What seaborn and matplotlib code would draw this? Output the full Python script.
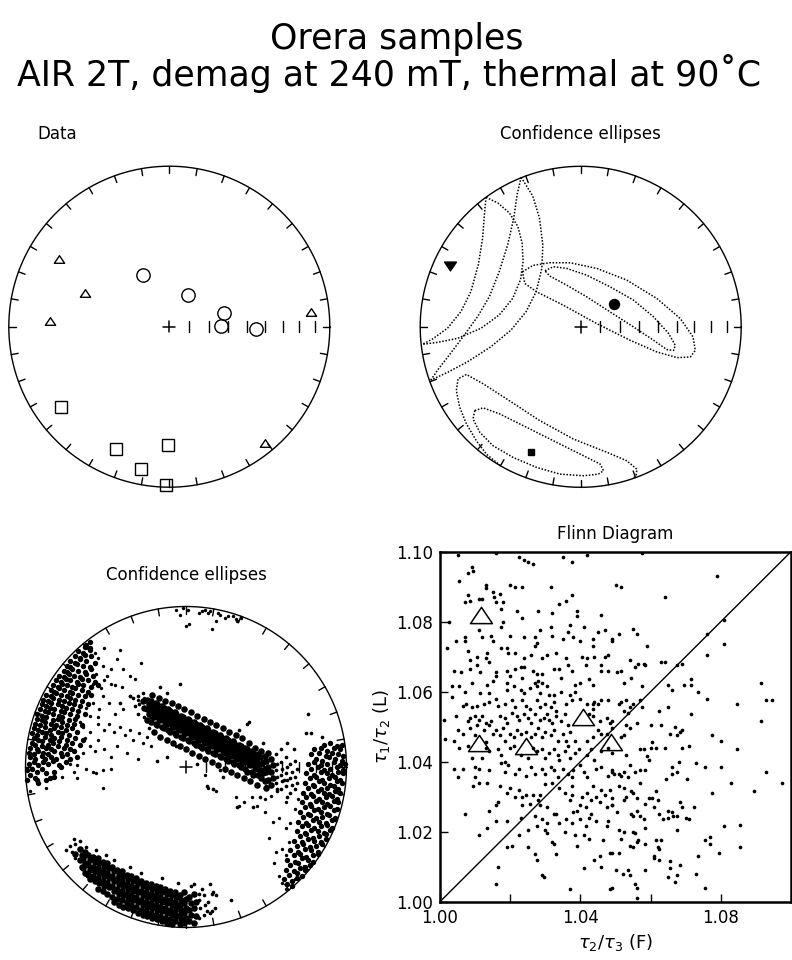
import numpy as np
import matplotlib
matplotlib.use("Agg")
import matplotlib.pyplot as plt
from matplotlib.path import Path
import seaborn as sns

# ---------------------------------------------------------------------------
# Specimen principal susceptibility directions (declination, inclination, deg)
# ---------------------------------------------------------------------------
k1_dec = [332.5, 30.3, 75.8, 89.7, 91.3]
k1_inc = [60.4, 71.5, 61.3, 63.6, 45.2]
k2_dec = [301.7, 291.9, 272.6, 84.1, 140.5]
k2_inc = [20.5, 42.8, 26.5, 12.0, 7.0]
k3_dec = [233.3, 203.5, 180.8, 191.2, 181.1]
k3_inc = [17.2, 18.2, 26.9, 10.3, 1.4]

# Mean principal directions: tau1, tau2, tau3
mean_dec = [55.7, 294.8, 201.6]
mean_inc = [69.5, 11.0, 16.9]

# Confidence ellipse traces, equal-area net coordinates (% of primitive radius)
ell_tau1_inner = [(-22.3, 34.9), (-17.1, 37.4), (-8.8, 36.4), (3.7, 32.2), (18.3, 24.9),
                  (32.9, 16.6), (45.4, 6.2), (54.8, -4.2), (58.9, -11.5), (57.9, -14.7),
                  (53.7, -14.2), (45.4, -8.4), (32.9, -0.1), (18.3, 9.3), (3.7, 18.7),
                  (-8.8, 26.0), (-19.2, 31.6), (-22.3, 34.9)]
ell_tau1_outer = [(-36.3, 34.3), (-29.6, 38.3), (-19.2, 39.9), (-6.7, 39.9), (10.0, 36.4),
                  (28.7, 29.1), (47.5, 17.6), (62.1, 5.1), (70.0, -6.3), (71.4, -14.7),
                  (68.3, -18.8), (60.0, -19.2), (47.5, -15.7), (30.8, -8.4), (10.0, 2.0),
                  (-10.9, 13.5), (-27.5, 21.8), (-34.8, 27.0), (-36.3, 34.3)]
ell_tau3_inner = [(-66.0, -52.2), (-60.8, -50.5), (-50.4, -54.3), (-33.8, -62.6), (-15.0, -72.0),
                  (1.7, -80.3), (12.1, -85.5), (14.2, -89.7), (11.0, -91.8), (1.7, -92.8),
                  (-12.9, -91.8), (-27.5, -87.6), (-42.1, -81.4), (-54.6, -74.1), (-62.9, -65.7),
                  (-67.1, -57.4), (-66.0, -52.2)]
ell_tau3_outer = [(-50.0, -86.5), (-58.8, -79.3), (-65.0, -71.0), (-71.2, -60.5), (-75.4, -50.1),
                  (-77.5, -39.7), (-76.4, -32.4), (-71.2, -29.7), (-60.8, -35.5), (-46.2, -44.9),
                  (-25.4, -58.5), (-4.6, -69.9), (16.3, -78.2), (28.8, -83.5), (35.0, -88.7),
                  (34.6, -92.2), (33.0, -94.2)]
ell_tau2_inner_a = [(-59.0, 80.7), (-51.7, 77.2), (-44.4, 70.9), (-39.2, 62.6), (-36.5, 52.2),
                    (-35.9, 40.7), (-37.5, 29.3), (-42.3, 17.8), (-50.7, 7.4), (-62.1, -0.9),
                    (-76.7, -7.2), (-89.2, -9.7), (-98.6, -10.9)]
ell_tau2_inner_b = [(-59.0, 80.7), (-60.0, 69.9), (-61.1, 55.3), (-63.8, 38.7), (-68.4, 22.0),
                    (-74.6, 9.5), (-83.0, -0.9), (-92.3, -7.6), (-98.6, -10.9)]
ell_tau2_outer_a = [(-37.1, 93.2), (-29.8, 81.3), (-25.7, 67.8), (-23.6, 51.1), (-24.2, 36.6),
                    (-27.7, 22.0), (-34.0, 9.5), (-43.4, -2.0), (-55.9, -12.4), (-70.5, -21.8),
                    (-83.0, -28.4), (-93.4, -33.2)]
ell_tau2_outer_b = [(-37.1, 93.2), (-39.6, 82.4), (-41.7, 67.8), (-45.5, 51.1), (-50.7, 34.5),
                    (-56.9, 18.8), (-64.2, 6.4), (-72.5, -5.1), (-81.9, -17.6), (-89.2, -27.0),
                    (-93.4, -33.2)]

# Bootstrap eigenvectors, equal-area net coordinates (% of primitive radius)
# dense parts of each cloud
boot_tau2_west = [
    (-98, 2), (-95, 3), (-92, 1), (-89, 3), (-86, 2), (-83, 4), (-79, 1), (-75, 3),
    (-97, 6), (-94, 5), (-90, 7), (-88, 5), (-84, 6), (-81, 5), (-77, 7), (-72, 5), (-68, 6),
    (-98, 9), (-95, 8), (-92, 10), (-89, 9), (-86, 8), (-82, 10), (-78, 9), (-74, 8), (-70, 10),
    (-97, 12), (-93, 11), (-90, 13), (-87, 12), (-84, 11), (-80, 13), (-76, 12), (-72, 11),
    (-96, 15), (-94, 14), (-90, 16), (-86, 14), (-83, 15), (-79, 16), (-75, 14), (-71, 15), (-66, 14),
    (-95, 18), (-92, 17), (-88, 19), (-85, 17), (-82, 18), (-78, 19), (-74, 17), (-69, 18), (-64, 17),
    (-96, 21), (-93, 20), (-90, 22), (-87, 21), (-84, 20), (-80, 22), (-77, 21), (-73, 20), (-68, 22),
    (-95, 24), (-92, 23), (-88, 25), (-85, 23), (-82, 24), (-78, 25), (-75, 23), (-71, 24),
    (-94, 27), (-91, 26), (-88, 28), (-84, 27), (-81, 26), (-77, 28), (-74, 26), (-70, 27), (-65, 26),
    (-93, 30), (-90, 29), (-87, 31), (-83, 29), (-80, 30), (-77, 31), (-73, 29), (-69, 30),
    (-93, 33), (-90, 32), (-86, 34), (-83, 33), (-79, 32), (-76, 34), (-72, 33), (-68, 32), (-63, 33),
    (-91, 36), (-88, 35), (-85, 37), (-82, 36), (-78, 35), (-75, 37), (-71, 36), (-67, 35),
    (-90, 39), (-87, 38), (-84, 40), (-80, 39), (-77, 38), (-73, 40), (-70, 39), (-66, 38), (-61, 39),
    (-89, 42), (-86, 41), (-83, 43), (-79, 42), (-76, 41), (-72, 43), (-69, 42), (-65, 41),
    (-87, 45), (-84, 44), (-81, 46), (-78, 45), (-74, 44), (-71, 46), (-67, 45), (-63, 44), (-59, 45),
    (-84, 48), (-82, 47), (-79, 49), (-76, 48), (-72, 47), (-69, 49), (-65, 48), (-61, 47),
    (-83, 51), (-80, 50), (-77, 52), (-74, 51), (-71, 50), (-67, 52), (-64, 51), (-59, 50), (-55, 51),
    (-81, 54), (-78, 53), (-75, 55), (-72, 54), (-68, 53), (-65, 55), (-61, 54), (-57, 53),
    (-79, 57), (-76, 56), (-73, 58), (-70, 57), (-66, 56), (-62, 58), (-58, 57),
    (-76, 60), (-74, 59), (-71, 61), (-67, 60), (-63, 59), (-59, 61),
    (-74, 63), (-72, 62), (-68, 64), (-64, 63), (-60, 62),
    (-72, 66), (-69, 65), (-66, 67), (-62, 66), (-57, 65),
    (-69, 69), (-66, 68), (-63, 70), (-59, 69), (-67, 72), (-64, 71), (-60, 73), (-63, 75), (-60, 74),
    (-62, 76), (-60, 78),
    (-99, -2), (-96, -1), (-93, -3), (-90, -1), (-97, -5), (-94, -7), (-99, -8), (-87, -4),
    (-85, -7), (-82, -3), (-92, -10), (-93, -8), (-87, -8), (-82, -6), (-78, 0)]
boot_tau2_east = [
    (86, 14), (90, 15), (94, 13), (97, 14),
    (80, 11), (84, 12), (88, 10), (92, 12), (96, 11),
    (78, 8), (83, 9), (87, 7), (91, 9), (95, 8), (98, 7),
    (81, 5), (85, 4), (89, 6), (93, 5), (97, 4),
    (76, 2), (80, 3), (84, 1), (88, 2), (92, 3), (96, 1), (99, 2),
    (78, -1), (82, 0), (86, -2), (90, -1), (94, 0), (98, -2),
    (75, -4), (80, -5), (84, -3), (88, -4), (91, -5), (95, -3), (98, -4),
    (77, -7), (81, -6), (85, -8), (89, -7), (93, -6), (96, -8),
    (74, -10), (79, -11), (83, -9), (86, -10), (90, -11), (94, -9), (97, -10),
    (76, -13), (80, -12), (84, -14), (88, -13), (92, -12), (95, -14),
    (73, -16), (78, -17), (82, -15), (86, -16), (89, -17), (93, -15), (96, -16),
    (75, -19), (79, -18), (83, -20), (87, -19), (91, -18), (94, -20),
    (72, -22), (77, -23), (81, -21), (85, -22), (88, -23), (92, -21), (95, -22),
    (74, -25), (78, -24), (82, -26), (86, -25), (90, -24), (94, -26),
    (71, -28), (76, -29), (80, -27), (84, -28), (88, -29), (92, -27),
    (73, -31), (77, -30), (81, -32), (85, -31), (89, -30), (93, -32),
    (70, -34), (75, -35), (79, -33), (83, -34), (87, -35), (91, -33),
    (72, -37), (76, -36), (80, -38), (84, -37), (88, -36), (91, -38),
    (69, -40), (74, -41), (78, -39), (82, -40), (86, -41), (90, -39),
    (71, -43), (75, -42), (79, -44), (83, -43), (87, -42),
    (67, -46), (72, -47), (76, -45), (80, -46), (84, -47), (87, -45),
    (69, -49), (73, -48), (77, -50), (81, -49), (85, -48),
    (65, -52), (70, -53), (74, -51), (78, -52), (82, -53),
    (67, -55), (71, -54), (75, -56), (79, -55), (82, -54),
    (63, -58), (68, -59), (72, -57), (76, -58), (79, -59),
    (65, -61), (70, -60), (74, -62), (77, -61),
    (62, -64), (67, -65), (71, -63), (74, -64),
    (64, -67), (69, -66), (72, -68), (61, -70), (66, -71), (69, -69), (63, -73), (66, -74)]
boot_tau1 = [
    (-27, 41), (-26, 37), (-24, 42), (-23, 39), (-24, 36), (-23, 33), (-24, 29),
    (-21, 45), (-22, 41), (-21, 38), (-22, 35), (-21, 32), (-22, 28),
    (-19, 40), (-20, 37), (-19, 34), (-20, 31), (-19, 27), (-20, 22),
    (-17, 43), (-18, 39), (-17, 36), (-18, 33), (-17, 30), (-18, 26),
    (-15, 38), (-16, 35), (-15, 32), (-16, 29), (-15, 25), (-16, 19),
    (-13, 41), (-14, 37), (-13, 34), (-14, 31), (-13, 28), (-14, 24),
    (-11, 36), (-12, 33), (-11, 30), (-12, 27), (-11, 23), (-12, 17),
    (-9, 40), (-10, 35), (-9, 32), (-10, 29), (-9, 26), (-10, 22),
    (-7, 34), (-8, 31), (-7, 28), (-8, 25), (-7, 21), (-8, 15),
    (-5, 38), (-6, 33), (-5, 30), (-6, 27), (-5, 24), (-6, 20),
    (-3, 32), (-4, 29), (-3, 26), (-4, 23), (-3, 19), (-4, 13),
    (-1, 36), (-2, 31), (-1, 28), (-2, 25), (-1, 22), (-2, 18),
    (1, 30), (0, 27), (1, 24), (0, 21), (1, 17), (0, 11),
    (3, 34), (2, 29), (3, 26), (2, 23), (3, 20), (2, 16),
    (5, 28), (4, 25), (5, 22), (4, 19), (5, 15), (4, 9),
    (7, 32), (6, 27), (7, 24), (6, 21), (7, 18), (6, 14),
    (9, 26), (8, 23), (9, 20), (8, 17), (9, 13), (8, 7),
    (11, 30), (10, 25), (11, 22), (10, 19), (11, 16), (10, 12),
    (13, 24), (12, 21), (13, 18), (12, 15), (13, 11), (12, 5),
    (15, 28), (14, 23), (15, 20), (14, 17), (15, 14), (14, 10),
    (17, 22), (16, 19), (17, 16), (16, 13), (17, 9), (16, 3),
    (19, 26), (18, 21), (19, 18), (18, 15), (19, 12), (18, 8),
    (21, 20), (20, 17), (21, 14), (20, 11), (21, 7), (20, 1),
    (23, 24), (22, 19), (23, 16), (22, 13), (23, 10), (22, 6),
    (25, 18), (24, 15), (25, 12), (24, 9), (25, 5), (24, -1),
    (27, 22), (26, 17), (27, 14), (26, 11), (27, 8), (26, 4),
    (29, 16), (28, 13), (29, 10), (28, 7), (29, 3), (28, -3),
    (31, 20), (30, 15), (31, 12), (30, 9), (31, 6), (30, 2),
    (33, 14), (32, 11), (33, 8), (32, 5), (33, 1), (32, -5),
    (35, 18), (34, 13), (35, 10), (34, 7), (35, 4), (34, 0),
    (37, 12), (36, 9), (37, 6), (36, 3), (37, -1), (36, -7),
    (39, 15), (38, 11), (39, 8), (38, 5), (39, 2), (38, -3),
    (41, 10), (40, 7), (41, 4), (40, 1), (41, -3), (40, -9),
    (43, 12), (42, 9), (43, 6), (42, 3), (43, 0), (42, -5),
    (45, 8), (44, 5), (45, 2), (44, -1), (45, -5), (44, -11),
    (47, 10), (46, 6), (47, 2), (46, -2), (47, -7),
    (49, 7), (48, 3), (49, -1), (48, -4), (49, -9),
    (51, 9), (50, 4), (51, 0), (50, -3), (51, -8), (50, -13),
    (53, 5), (54, 1), (53, -3), (54, -7), (53, -11)]
boot_tau3 = [
    (-69, -54), (-66, -51), (-65, -55), (-66, -58), (-65, -62),
    (-63, -53), (-64, -57), (-63, -60), (-64, -63), (-63, -66),
    (-61, -55), (-60, -58), (-61, -61), (-60, -64), (-61, -67), (-60, -70),
    (-58, -56), (-57, -59), (-58, -62), (-57, -65), (-58, -68), (-57, -71),
    (-55, -57), (-54, -60), (-55, -63), (-54, -66), (-55, -69), (-54, -72), (-55, -76),
    (-52, -59), (-51, -62), (-52, -65), (-51, -68), (-52, -71), (-51, -74), (-52, -77),
    (-49, -60), (-48, -63), (-49, -66), (-48, -69), (-49, -72), (-48, -75), (-49, -79),
    (-46, -62), (-45, -65), (-46, -68), (-45, -71), (-46, -74), (-45, -77), (-46, -81), (-45, -84),
    (-43, -64), (-42, -67), (-43, -70), (-42, -73), (-43, -76), (-42, -79), (-43, -82), (-42, -86),
    (-40, -65), (-39, -68), (-40, -71), (-39, -74), (-40, -77), (-39, -80), (-40, -83), (-39, -87),
    (-37, -67), (-36, -70), (-37, -73), (-36, -76), (-37, -79), (-36, -82), (-37, -85), (-36, -88),
    (-34, -68), (-33, -71), (-34, -74), (-33, -77), (-34, -80), (-33, -83), (-34, -86), (-33, -89),
    (-31, -69), (-30, -72), (-31, -75), (-30, -78), (-31, -81), (-30, -84), (-31, -87), (-30, -91),
    (-28, -71), (-27, -74), (-28, -77), (-27, -80), (-28, -83), (-27, -86), (-28, -89), (-27, -92),
    (-25, -72), (-24, -75), (-25, -78), (-24, -81), (-25, -84), (-24, -87), (-25, -90), (-24, -93),
    (-22, -73), (-21, -76), (-22, -79), (-21, -82), (-22, -85), (-21, -88), (-22, -91), (-21, -94),
    (-19, -74), (-18, -77), (-19, -80), (-18, -83), (-19, -86), (-18, -89), (-19, -92), (-18, -95),
    (-16, -75), (-15, -78), (-16, -81), (-15, -84), (-16, -87), (-15, -90), (-16, -93), (-15, -96),
    (-13, -76), (-12, -79), (-13, -82), (-12, -85), (-13, -88), (-12, -91), (-13, -94), (-12, -97),
    (-10, -77), (-9, -80), (-10, -83), (-9, -86), (-10, -89), (-9, -92), (-10, -95), (-9, -98),
    (-7, -78), (-6, -81), (-7, -84), (-6, -87), (-7, -90), (-6, -93), (-7, -96),
    (-4, -80), (-3, -83), (-4, -86), (-3, -89), (-4, -92), (-3, -95), (-4, -98),
    (-1, -78), (0, -82), (-1, -85), (0, -88), (-1, -91), (0, -94), (-1, -97),
    (2, -81), (3, -85), (2, -89), (3, -92), (2, -96),
    (5, -79), (6, -84), (5, -88), (6, -93), (5, -97)]
# scattered parts of each cloud
boot_tau2_sparse = [
    (-97, -15), (-87, -13), (-77, -6), (-70, -3), (-68, -7), (-62, -1), (-58, -3), (-56, -4),
    (-52, -2), (-47, -1), (-52, -13),
    (-51, 74), (-41, 73), (-28, 65), (-43, 67), (-47, 61), (-39, 61), (-35, 57), (-32, 55),
    (-51, 54), (-44, 51), (-40, 50), (-35, 44), (-30, 42), (-26, 43), (-57, 71), (-55, 68),
    (-57, 64), (-52, 63), (-56, 58), (-49, 57), (-47, 52), (-53, 49), (-58, 52), (-68, 32),
    (-64, 25), (-60, 32), (-55, 27), (-51, 23), (-48, 27), (-45, 22), (-41, 25), (-38, 20),
    (-35, 23), (-33, 17), (-29, 21), (-27, 15), (-24, 19), (-22, 13), (-55, 17), (-60, 13),
    (-64, 9), (-51, 11), (-47, 6), (-43, 13), (-72, 2), (-68, 1), (-37, 9), (-30, 5),
    (-62, 45), (-58, 40), (-54, 36), (-60, 22), (-57, 10), (-44, 33), (-39, 36), (-48, 40),
    (-52, 44), (-63, 18), (-66, 28), (-62, 37), (-55, 31),
    (1, 98), (2, 89), (12, 98), (14, 96), (15, 97), (20, 96), (19, 91), (16, 86), (26, 94),
    (31, 92), (32, 91), (29, 94), (21, 95), (-6, 98), (-2, 99), (0, 88), (10, 97), (24, 93),
    (34, 93), (8, 96), (-4, 95),
    (33, -24), (14, -13), (19, -15), (31, -19), (41, -19), (44, -24), (49, -28), (54, -34),
    (52, -44), (56, -53), (55, -60), (62, -55), (58, -68), (60, -72), (62, -76), (68, -70),
    (49, -20), (36, -22), (58, -32), (62, -38), (64, -47), (60, -51), (65, -35), (68, -26),
    (53, -18), (62, -22), (70, -20), (12, -5)]
boot_tau1_sparse = [
    (-33, 43), (-32, 38), (-30, 44), (-29, 39), (-30, 33), (-27, 46), (-26, 31), (-23, 24),
    (56, 8), (57, 2), (56, -2), (57, -6), (56, -10), (57, -15),
    (59, 3), (60, -1), (59, -5), (60, -9), (59, -14),
    (62, 6), (63, 0), (62, -4), (63, -8), (62, -12),
    (65, 2), (66, -3), (65, -7), (66, -11), (65, -16),
    (68, 4), (69, -1), (68, -6), (69, -10), (68, -14),
    (-41, 40), (-35, 44), (-16, 50), (-12, 46), (-4, 52), (38, 27), (21, -2), (13, -12),
    (17, -14), (32, -25), (23, -6), (7, 2), (-12, 6), (-18, 4), (-6, 13), (42, -25),
    (46, -19), (50, -12), (57, -14), (61, -8), (63, -19), (63, 15), (59, 11), (67, 11),
    (76, 33), (78, 21), (85, 19), (75, 21), (39, 28), (48, 15), (33, 23)]
boot_tau3_sparse = [
    (-72, -49), (-71, -53), (-69, -48), (-69, -57),
    (8, -83), (9, -88), (8, -94), (11, -80), (12, -86), (11, -92), (14, -84), (15, -91),
    (17, -78), (18, -88),
    (-70, -45), (-62, -50), (-56, -52), (-45, -58), (-35, -62), (-28, -66), (-15, -69),
    (-5, -72), (5, -73), (10, -76), (15, -73), (19, -80), (-75, -52), (-66, -46), (-50, -55),
    (3, -74), (16, -79), (8, -79), (13, -90), (16, -90), (28, -83)]

# Flinn diagram: bootstrap (F-1, L-1) in per mil
boot_flinn_permil = [
    (5, 99), (16, 99.5), (22.5, 98.5), (24, 97.5), (25, 97), (26.5, 96.5), (35, 98.5), (37.5, 97),
    (42, 99), (9, 95.5), (8, 94), (9.5, 94.5), (5.5, 91.5), (13, 90.5), (13, 89.5), (20, 90.5),
    (21.5, 90), (23.5, 90), (31.5, 90), (37.5, 87.5), (36, 86), (34, 85), (8, 87.5), (7, 85.5),
    (8.5, 86), (11, 86.5), (12, 86.5), (15, 88.5), (15.5, 87), (17, 88), (16, 85.5), (18, 85.5),
    (17.5, 83.5), (22, 83), (28, 83), (32, 82.5), (39, 83), (39, 81.5), (46, 82), (2.5, 80),
    (18, 80), (17.5, 78.5), (23.5, 81), (28.5, 77.5), (31.5, 78.5), (37, 79), (36.5, 77), (41, 78.5),
    (45, 77), (47, 77.5), (38, 75.5), (11, 77.5), (12, 75.5), (7, 75.5), (7, 74.5), (4.5, 74.5),
    (2, 72.5), (8, 71.5), (14.5, 76), (15, 74.5), (20, 76), (24, 75.5), (27, 75.5), (27.5, 74),
    (27, 73), (32, 76), (35, 75), (40, 74.5), (43.5, 75), (43.5, 73), (49, 74.5), (17.5, 72.5),
    (19, 72.5), (19.5, 71), (21.5, 71), (10.5, 70), (13.5, 71), (13, 69.5), (14, 68.5), (8.5, 69),
    (24, 69.5), (26, 70.5), (29, 69.5), (30.5, 70.5), (33, 71), (36, 69.5), (40.5, 70), (42, 69.5),
    (41.5, 67.5), (44, 70), (47, 70), (48, 70.5), (46, 67.5), (46, 66), (4, 66), (6, 65.5),
    (8.5, 66.5), (10.5, 67.5), (11.5, 65.5), (16, 65.5), (16, 64.5), (19, 66), (20, 64.5), (21.5, 66.5),
    (23, 67), (24, 67), (23.5, 64), (26.5, 66), (27.5, 65), (29, 65), (32.5, 66.5), (34, 66.5),
    (34.5, 64), (36.5, 67.5), (37.5, 66), (38.5, 62), (40, 62.5), (42.5, 63.5), (43.5, 62), (48, 66),
    (3.5, 61.5), (5.5, 61.5), (9, 62.5), (7, 60), (11.5, 59.5), (13.5, 62), (14, 59.5), (15, 63),
    (19, 62.5), (19, 60.5), (21, 61.5), (23, 60.5), (24, 59.5), (25.5, 61), (27, 62.5), (28, 63),
    (29, 62.5), (27.5, 61.5), (30.5, 61.5), (28.5, 59.5), (31, 59), (32.5, 59), (34.5, 60), (37, 59),
    (38.5, 60), (3.5, 58.5), (6.5, 56), (7.5, 56.5), (9, 55.5), (10.5, 56), (12.5, 56.5), (14, 57),
    (16, 58), (16.5, 56), (18.5, 56.5), (20.5, 57.5), (21.5, 55.5), (23.5, 57.5), (24.5, 56), (25.5, 55),
    (27.5, 57.5), (28.5, 55.5), (30, 56.5), (31.5, 55.5), (32.5, 57), (33, 54.5), (36, 56.5), (37.5, 57.5),
    (40, 58), (42, 56.5), (43.5, 56.5), (44, 57), (45, 56.5), (46, 57.5), (48, 57.5), (43.5, 55),
    (1, 52), (4.5, 53), (8, 51.5), (8.5, 52.5), (10, 53), (11, 52), (12, 53), (10.5, 50.5),
    (13, 51), (14, 50.5), (14.5, 51.5), (17, 53), (18.5, 52.5), (19, 51), (20.5, 54), (22, 53),
    (22.5, 52), (24, 53.5), (25, 52.5), (26, 51), (27, 53.5), (28.5, 52), (29.5, 52.5), (30.5, 53.5),
    (31, 52), (32, 51), (33, 53), (34.5, 51.5), (35.5, 53.5), (36.5, 50.5), (42.5, 53.5), (43.5, 53),
    (45.5, 51.5), (47.5, 52.5), (48.5, 51), (5, 49), (6.5, 48), (8.5, 49.5), (10, 47.5), (12.5, 49),
    (15, 48), (16, 49), (17, 47.5), (18, 49.5), (18.5, 46), (20, 48), (21, 47), (22, 49),
    (23, 48), (24.5, 48.5), (26, 47), (27, 48), (28, 49.5), (29, 47), (30, 48.5), (31.5, 47.5),
    (32.5, 49), (33.5, 46), (35, 48), (36, 46), (37, 48.5), (38.5, 46), (42, 46), (43.5, 47),
    (45, 49), (46, 48), (47.5, 48), (49, 49.5), (1.5, 46.5), (4, 46), (13, 45.5), (5.5, 44),
    (8, 44.5), (13, 44), (14, 43), (16.5, 43.5), (17.5, 42), (18.5, 40), (20, 44), (21, 44.5),
    (26.5, 44), (27.5, 43), (29, 43.5), (30, 41), (31, 42.5), (32.5, 43.5), (33.5, 42), (34, 40.5),
    (35.5, 43), (36.5, 44.5), (37, 41), (38.5, 42.5), (39.5, 43.5), (42, 42), (43, 43.5), (44, 40.5),
    (46, 43), (48, 44), (49, 42.5), (9, 41), (12, 41), (23, 42), (25, 41), (4, 38),
    (5, 35.5), (6.5, 38), (10, 38.5), (11, 38), (17.5, 39.5), (18.5, 37), (19.5, 39), (21.5, 36.5),
    (22.5, 38), (24.5, 36), (26, 38.5), (27, 36.5), (29, 38), (30, 36.5), (31.5, 38.5), (32.5, 37.5),
    (33.5, 35.5), (35, 38), (36.5, 36.5), (37.5, 35.5), (38, 37.5), (40, 39), (41, 37), (42, 35.5),
    (44.5, 38), (46, 38.5), (48, 36), (49, 37), (10, 35.5), (14, 37.5), (9.5, 33), (11, 34),
    (13.5, 34), (17, 33), (19, 31), (20, 32.5), (21.5, 30), (22.5, 32), (23.5, 30), (24.5, 30.5),
    (26.5, 30.5), (28.5, 30.5), (30, 33.5), (32, 34), (34, 32.5), (35.5, 31), (37.5, 33), (37.5, 30.5),
    (40.5, 30), (42, 31), (43.5, 33), (44.5, 30), (46, 32), (47, 30.5), (48.5, 32), (16, 27.5),
    (16.5, 28.5), (14, 26), (23.5, 27.5), (25.5, 28), (28, 29), (28.5, 27.5), (30.5, 27), (37, 29),
    (38, 25.5), (39, 26), (40, 27.5), (41.5, 27), (43, 29), (45.5, 28.5), (47.5, 27), (49, 27.5),
    (43, 25), (32.5, 25), (7, 25), (16, 23), (19, 23), (23, 24), (27, 24.5), (29, 23.5),
    (27.5, 21.5), (30.5, 22.5), (33, 25), (34, 22.5), (36, 23.5), (37.5, 22.5), (40, 23.5), (41.5, 21.5),
    (42.5, 24), (44.5, 23), (48, 23), (47.5, 21.5), (13.5, 21), (22.5, 19), (25, 20.5), (11, 19),
    (30, 20.5), (30.5, 19.5), (35.5, 20), (38.5, 19), (41, 19), (42.5, 18), (46.5, 17.5), (32, 17),
    (32.5, 16.5), (25, 15.5), (27, 13.5), (27.5, 12), (33, 13.5), (39, 16), (44, 12), (45.5, 13),
    (48.5, 14), (46, 10), (41, 9.5), (16.5, 10), (19, 15.5), (20.5, 16), (29, 7.5), (29.5, 7),
    (16, 5), (37, 3.5), (48.5, 3.5),
    (57.5, 99.5), (50, 90.5), (51.5, 90), (79, 93), (64, 87), (81, 80.5), (76, 76.5), (81, 73.5),
    (49, 75), (51, 76.5), (55, 78), (56, 76.5), (59, 73), (54, 69), (55.5, 67), (56.5, 68),
    (58, 68), (58.5, 67.5), (50.5, 65.5), (51.5, 66), (63, 68.5), (64, 68.5), (67.5, 67.5), (69, 68),
    (76, 70.5), (54.5, 64), (52.5, 62.5), (57.5, 61.5), (65, 62), (66, 60.5), (69.5, 62), (71.5, 63.5),
    (71.5, 62), (73.5, 60), (76, 58), (91.5, 62.5), (51, 56.5), (51.5, 57), (53, 57.5), (55, 56.5),
    (57, 57.5), (54, 55.5), (52.5, 54.5), (53.5, 54), (57.5, 55.5), (62.5, 54.5), (65, 55.5), (71.5, 53.5),
    (84.5, 56.5), (93, 57.5), (94.5, 57.5), (91.5, 51.5), (49, 51.5), (53, 50.5), (54, 49.5), (56, 51),
    (60, 50.5), (63, 50.5), (65.5, 48), (67, 50), (67.5, 47.5), (68.5, 48.5), (69, 49), (51.5, 47),
    (52.5, 47.5), (77.5, 47.5), (80, 46), (84.5, 43.5), (53, 42), (57, 43.5), (58, 43.5), (60, 44),
    (60.5, 45.5), (61.5, 44), (64, 44), (69, 44), (71, 44.5), (59, 41.5), (59.5, 40.5), (68, 40),
    (66, 38.5), (73, 39.5), (75.5, 38.5), (80, 38.5), (93, 37), (97.5, 34), (89.5, 31.5), (83, 34),
    (77.5, 31), (70.5, 35), (67.5, 37), (64.5, 35), (66, 36.5), (49, 37.5), (49.5, 36.5), (51, 36.5),
    (51.5, 36), (52.5, 37), (54, 39), (55.5, 37), (57, 37.5), (58.5, 37.5), (53.5, 35.5), (57, 34),
    (51, 33), (52.5, 32.5), (53, 30), (52.5, 29), (54.5, 31.5), (55, 31), (56, 29.5), (58.5, 28),
    (59.5, 29.5), (60.5, 29.5), (61.5, 31.5), (61, 27), (62, 29), (49, 29.5), (49, 27.5), (50.5, 25.5),
    (54.5, 25), (55, 24.5), (56, 26), (57, 24.5), (58, 23.5), (65, 26), (66, 25.5), (68.5, 28.5),
    (69, 27), (72.5, 27), (62.5, 25), (63.5, 23.5), (65, 24), (66.5, 24.5), (67.5, 24.5), (70, 24),
    (71, 23.5), (67.5, 20.5), (51, 20.5), (52.5, 20), (55, 20), (55.5, 19.5), (58.5, 21), (51.5, 18),
    (54, 16), (55, 15.5), (56, 17), (56.5, 17.5), (58.5, 16.5), (61.5, 17.5), (63, 17.5), (62, 15.5),
    (62.5, 15), (61, 13), (61, 12.5), (62.5, 12), (75.5, 17.5), (77, 18.5), (77, 16.5), (81, 21.5),
    (85.5, 22), (85.5, 15.5), (79.5, 14), (73.5, 13), (49, 14), (51, 14), (50, 9), (52, 8),
    (53.5, 9), (54, 7.5), (58.5, 9), (65.5, 11.5), (68.5, 10.5), (65.5, 9.5), (65, 7), (67.5, 7.5),
    (67, 5.5), (73, 8), (75.5, 4), (55.5, 5), (56, 4), (56, 1), (49, 4)]

# Flinn diagram: specimen values
spec_F = [1.0117, 1.0112, 1.0244, 1.0407, 1.0488]
spec_L = [1.0818, 1.0454, 1.0446, 1.0529, 1.0456]

flinn_xticks = [1.00, 1.02, 1.04, 1.06, 1.08]
flinn_xticklabels = ['1.00', '', '1.04', '', '1.08']
flinn_yticks = [1.00, 1.02, 1.04, 1.06, 1.08, 1.10]
flinn_yticklabels = ['1.00', '1.02', '1.04', '1.06', '1.08', '1.10']

title_lines = ["Orera samples", "AIR 2T, demag at 240 mT, thermal at 90\u02daC"]
panel_titles = ["Data", "Confidence ellipses", "Confidence ellipses", "Flinn Diagram"]

# ---------------------------------------------------------------------------
sns.set_style("white")
plt.rcParams['font.family'] = ['DejaVu Sans']
plt.rcParams['mathtext.fontset'] = 'dejavusans'
for key in ['axes.edgecolor', 'text.color', 'xtick.color', 'ytick.color', 'axes.labelcolor']:
    plt.rcParams[key] = 'black'

W, H = 792, 960
fig = plt.figure(figsize=(W / 100, H / 100), dpi=100)
fig.patch.set_facecolor('white')

tri_up = Path([(-1.35, -1.0), (1.35, -1.0), (0.0, 1.0), (-1.35, -1.0)],
              [Path.MOVETO, Path.LINETO, Path.LINETO, Path.CLOSEPOLY])
tri_dn = Path([(-1.35, 1.0), (1.35, 1.0), (0.0, -1.0), (-1.35, 1.0)],
              [Path.MOVETO, Path.LINETO, Path.LINETO, Path.CLOSEPOLY])


def lambert(dec, inc):
    d = np.radians(np.asarray(dec, dtype=float))
    i = np.radians(np.asarray(inc, dtype=float))
    r = np.sqrt(2.0) * np.sin((np.pi / 2 - i) / 2)
    return r * np.sin(d), r * np.cos(d)


def pct(points):
    arr = np.asarray(points, dtype=float) / 100.0
    return arr[:, 0], arr[:, 1]


def net_axes(cx, cy, R=160.5, pad=1.06):
    half = R * pad
    ax = fig.add_axes([(cx - half) / W, 1 - (cy + half) / H, 2 * half / W, 2 * half / H])
    ax.set_xlim(-pad, pad)
    ax.set_ylim(-pad, pad)
    ax.set_aspect('equal')
    ax.axis('off')
    return ax


def draw_net(ax, z=4):
    t = np.linspace(0, 2 * np.pi, 721)
    ax.plot(np.cos(t), np.sin(t), color='k', lw=1.0, zorder=z)
    for a in np.radians(np.arange(0, 360, 10)):
        ax.plot([0.956 * np.sin(a), np.sin(a)], [0.956 * np.cos(a), np.cos(a)],
                color='k', lw=1.0, zorder=z)
    ax.plot([-0.038, 0.038], [0, 0], color='k', lw=1.1, zorder=z)
    ax.plot([0, 0], [-0.036, 0.036], color='k', lw=1.1, zorder=z)
    for inc in range(80, 0, -10):
        r = np.sqrt(2.0) * np.sin(np.radians(90 - inc) / 2)
        ax.plot([r, r], [-0.034, 0.034], color='k', lw=1.0, zorder=z)


# ---- main title ----
fig.text(397 / W, 1 - 49 / H, title_lines[0], ha='center', va='baseline', fontsize=25)
fig.text(389 / W, 1 - 86 / H, title_lines[1], ha='center', va='baseline', fontsize=25)

# ---- panel 1: specimen data ----
ax1 = net_axes(169.3, 326.7)
draw_net(ax1)
x, y = lambert(k1_dec, k1_inc)
ax1.plot(x, y, ls='none', marker='o', ms=9.6, mfc='none', mec='k', mew=1.0, zorder=6)
x, y = lambert(k2_dec, k2_inc)
ax1.plot(x, y, ls='none', marker=tri_up, ms=7.4, mfc='none', mec='k', mew=1.0, zorder=6)
x, y = lambert(k3_dec, k3_inc)
ax1.plot(x, y, ls='none', marker='s', ms=8.1, mfc='none', mec='k', mew=1.0, zorder=6)
fig.text(57 / W, 1 - 139 / H, panel_titles[0], ha='center', va='baseline', fontsize=12)

# ---- panel 2: confidence ellipses ----
ax2 = net_axes(580.7, 326.8)
draw_net(ax2)
for trace in [ell_tau1_inner, ell_tau1_outer, ell_tau3_inner, ell_tau3_outer,
              ell_tau2_inner_a, ell_tau2_inner_b, ell_tau2_outer_a, ell_tau2_outer_b]:
    ex, ey = pct(trace)
    ax2.plot(ex, ey, color='k', lw=1.1, ls=(0, (1, 1.1)), zorder=5)
mx, my = lambert(mean_dec, mean_inc)
ax2.plot(mx[0], my[0], ls='none', marker='o', ms=7.2, color='k', zorder=6)
ax2.plot(mx[1], my[1], ls='none', marker=tri_dn, ms=8.6, color='k', zorder=6)
ax2.plot(mx[2], my[2], ls='none', marker='s', ms=3.8, color='k', zorder=6)
fig.text(580.7 / W, 1 - 139 / H, panel_titles[1], ha='center', va='baseline', fontsize=12)

# ---- panel 3: bootstrap eigenvectors ----
ax3 = net_axes(186.0, 767.0)
for cloud, size in [(boot_tau2_west, 15), (boot_tau2_east, 15), (boot_tau1, 22),
                    (boot_tau3, 22), (boot_tau2_sparse, 6), (boot_tau1_sparse, 7),
                    (boot_tau3_sparse, 7)]:
    bx, by = pct(cloud)
    sns.scatterplot(x=bx, y=by, ax=ax3, color='k', s=size, linewidth=0, legend=False, zorder=3)
draw_net(ax3, z=4)
ax3.set_xlim(-1.06, 1.06)
ax3.set_ylim(-1.06, 1.06)
ax3.axis('off')
fig.text(186 / W, 1 - 580 / H, panel_titles[2], ha='center', va='baseline', fontsize=12)

# ---- panel 4: Flinn diagram ----
axf = fig.add_axes([440 / W, 1 - 901.7 / H, 351 / W, 350 / H])
fl = np.asarray(boot_flinn_permil, dtype=float)
sns.scatterplot(x=1 + fl[:, 0] / 1000, y=1 + fl[:, 1] / 1000, ax=axf, color='k', s=7,
                linewidth=0, legend=False, zorder=2)
axf.plot([1.0, 1.1], [1.0, 1.1], color='k', lw=1.0, zorder=3)
axf.plot(spec_F, spec_L, ls='none', marker=tri_up, ms=15.8, mfc='none', mec='k', mew=1.1, zorder=4)
axf.set_xlim(1.0, 1.1)
axf.set_ylim(1.0, 1.1)
axf.set_xticks(flinn_xticks)
axf.set_xticklabels(flinn_xticklabels)
axf.set_yticks(flinn_yticks)
axf.set_yticklabels(flinn_yticklabels)
axf.tick_params(direction='in', length=5.5, width=1.0, labelsize=12, pad=5,
                bottom=True, left=True, top=False, right=False)
for sp in axf.spines.values():
    sp.set_linewidth(1.8)
    sp.set_color('k')
axf.set_xlabel(r'$\tau_2/\tau_3$ (F)', fontsize=13, labelpad=4)
axf.set_ylabel(r'$\tau_1/\tau_2$ (L)', fontsize=13, labelpad=3)
axf.set_title(panel_titles[3], fontsize=12, pad=9)

fig.savefig("out.png", dpi=100, facecolor='white')
